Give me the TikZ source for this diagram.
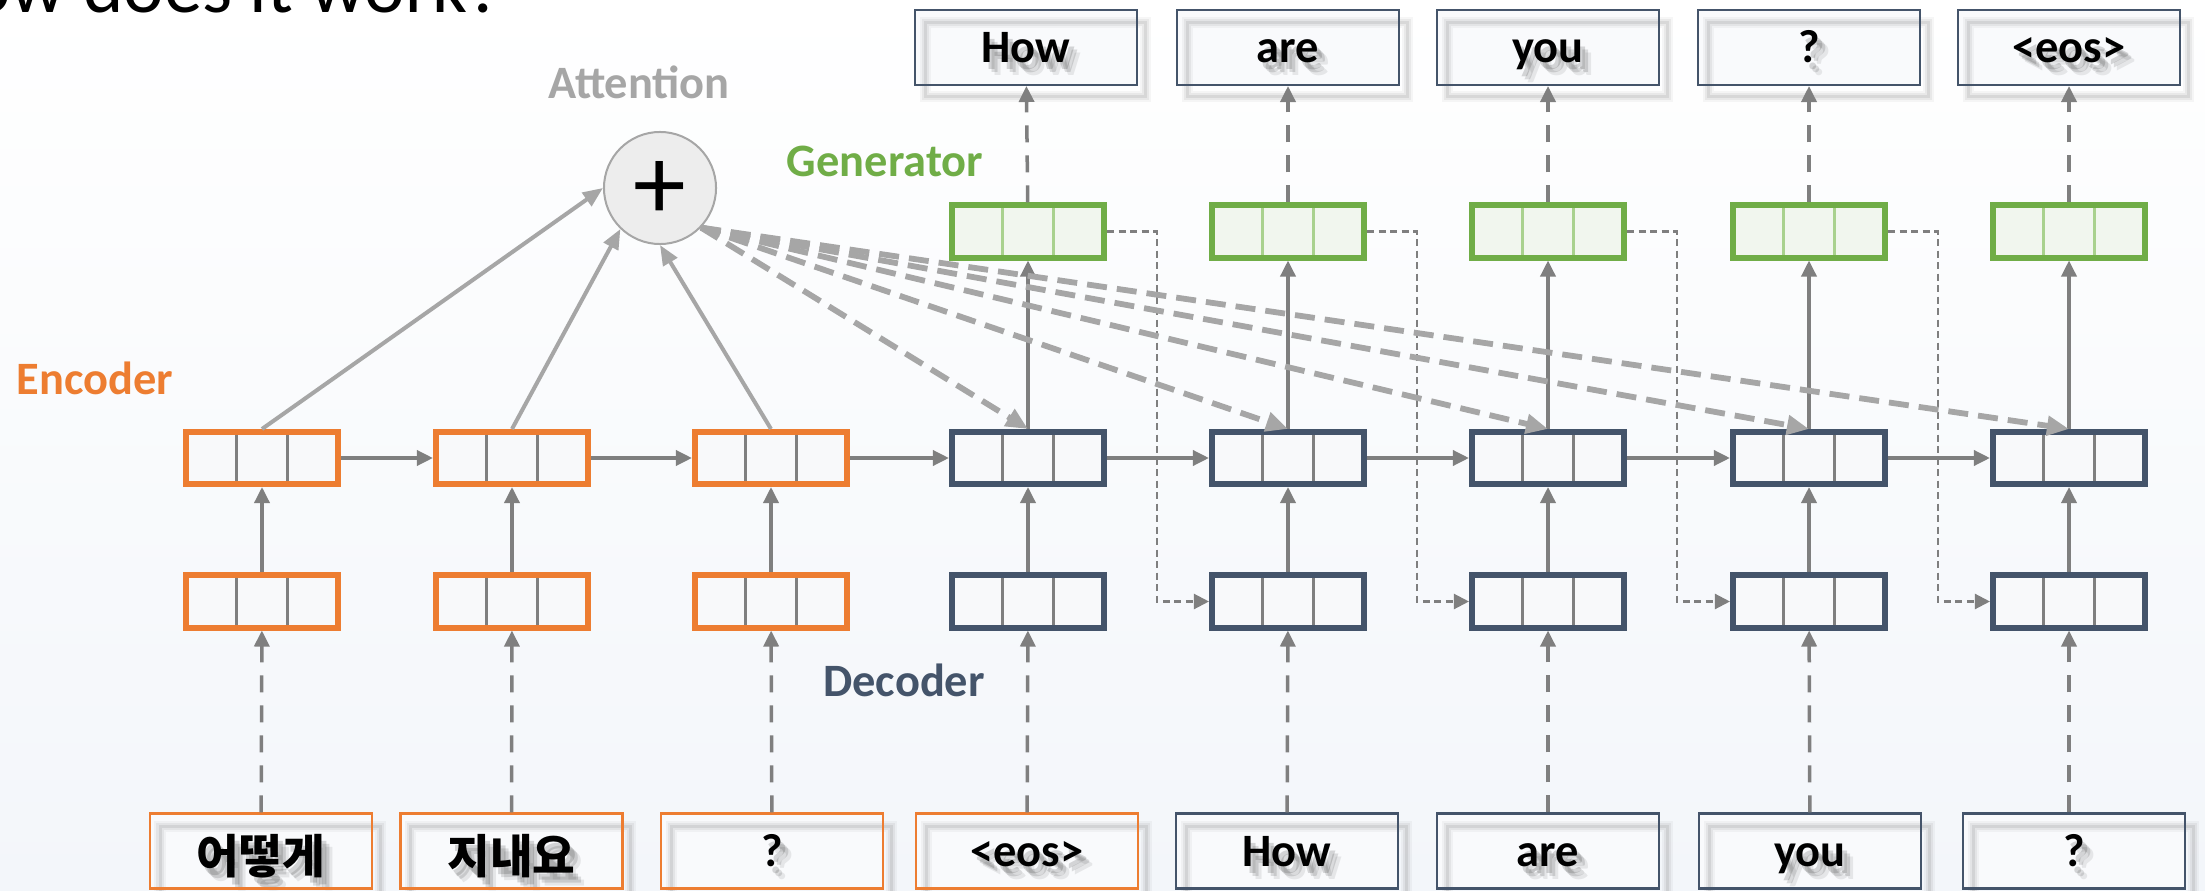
\documentclass[tikz,border=0pt]{standalone}
\usepackage{fontspec}
\setmainfont{Carlito}
\newfontfamily\krfont{Noto Sans CJK KR}
\usetikzlibrary{arrows.meta,calc}

\definecolor{encC}{HTML}{ED7D31}
\definecolor{decC}{HTML}{44546A}
\definecolor{genC}{HTML}{70AD47}
\definecolor{genF}{HTML}{F1F6EE}
\definecolor{genS}{HTML}{A9D18E}
\definecolor{cellF}{HTML}{F8F9FA}
\definecolor{sepC}{HTML}{7F7F7F}
\definecolor{arrC}{HTML}{7F7F7F}
\definecolor{attC}{HTML}{A6A6A6}
\definecolor{circF}{HTML}{EDEDED}
\definecolor{wordF}{HTML}{F9FAFC}
\definecolor{bgB}{HTML}{F3F6FA}

\tikzset{
  cellbox/.style={rectangle, inner sep=0pt, minimum width=1.52cm, minimum height=0.52cm, line width=0.06cm,
    path picture={
      \draw[#1, line width=0.03cm]
        ($(path picture bounding box.south west)!0.3333!(path picture bounding box.south east)$) --
        ($(path picture bounding box.north west)!0.3333!(path picture bounding box.north east)$)
        ($(path picture bounding box.south west)!0.6667!(path picture bounding box.south east)$) --
        ($(path picture bounding box.north west)!0.6667!(path picture bounding box.north east)$);
    }},
  encbox/.style={cellbox=sepC, draw=encC, fill=cellF},
  decbox/.style={cellbox=sepC, draw=decC, fill=cellF},
  genbox/.style={cellbox=genS, draw=genC, fill=genF},
  lab/.style={font=\fontsize{13.2pt}{16pt}\selectfont\bfseries, inner sep=0pt},
  wtext/.style={font=\fontsize{13.2pt}{16pt}\selectfont\bfseries, text height=0.36cm, text depth=0.06cm, inner sep=0pt},
  wbox/.style={wtext, rectangle, minimum width=2.215cm, minimum height=0.745cm, line width=0.025cm},
  boxshadowa/.style={draw=black, line width=0.11cm, opacity=0.035},
  boxshadow/.style={draw=black, line width=0.07cm, opacity=0.05},
  boxshadowb/.style={draw=black, line width=0.03cm, opacity=0.07},
  solidarr/.style={draw=arrC, line width=0.035cm, -{Triangle[length=0.16cm,width=0.15cm]}},
  dasharr/.style={solidarr, dash pattern=on 0.17cm off 0.13cm},
  thindash/.style={draw=arrC, line width=0.022cm, dash pattern=on 0.07cm off 0.045cm, -{Triangle[length=0.15cm,width=0.15cm]}},
  attsolid/.style={draw=attC, line width=0.04cm, -{Triangle[length=0.2cm,width=0.16cm]}},
  attdash/.style={draw=attC, line width=0.058cm, dash pattern=on 0.2cm off 0.1cm, -{Triangle[length=0.22cm,width=0.19cm]}},
}

% name, x, y, border colour, text
\newcommand\wordbox[5]{%
  \begin{scope}[shift={(#2,#3)}]
    \fill[wordF] (-111,-37) rectangle (111,37);
    \draw[boxshadowa] (-101,-25) rectangle (119,49);
    \draw[boxshadow] (-101,-25) rectangle (119,49);
    \draw[boxshadowb] (-101,-25) rectangle (119,49);
    \node[wtext, text=black, opacity=0.15] (#1s1) at (5,7) {#5};
    \node[wtext, text=black, opacity=0.12] (#1s2) at (8,10) {#5};
    \node[wtext, text=black, opacity=0.08] (#1s3) at (11,13) {#5};
  \end{scope}
  \node[wbox, draw=#4] (#1) at (#2,#3) {#5};
}

\begin{document}
\begin{tikzpicture}[x=0.01cm, y=-0.01cm]
\useasboundingbox (0,0) rectangle (2205,891);
\clip (0,0) rectangle (2205,891);
\shade[top color=white, bottom color=bgB] (0,0) rectangle (2205,891);

% title (cut off by the frame)
\node[anchor=base west, inner sep=0pt] (title) at (10,12.5)
  {\resizebox{4.92cm}{!}{\llap{Ho}w does it work?}};

% encoder boxes
\node[encbox] (e1t) at (262,458) {};
\node[encbox] (e2t) at (512,458) {};
\node[encbox] (e3t) at (771,458) {};
\node[encbox] (e1b) at (262,601.5) {};
\node[encbox] (e2b) at (512,601.5) {};
\node[encbox] (e3b) at (771,601.5) {};

% decoder and generator boxes
\foreach \i/\x in {1/1028,2/1288,3/1548,4/1809,5/2069}{
  \node[decbox] (d\i t) at (\x,458) {};
  \node[decbox] (d\i b) at (\x,601.5) {};
  \node[genbox] (g\i) at (\x,231.5) {};
}

% attention circle
\node[circle, draw=attC, fill=circF, line width=0.02cm, minimum size=1.12cm, inner sep=0pt] (att) at (660,188) {};
\node[inner sep=0pt, font=\fontsize{30pt}{30pt}\selectfont] (plus) at (660,191) {+};

% labels
\node[lab, text=attC] (latt) at (639,82) {Attention};
\node[lab, text=genC] (lgen) at (885,161) {Generator};
\node[lab, text=encC] (lenc) at (95,378) {Encoder};
\node[lab, text=decC] (ldec) at (904,680) {Decoder};

% output words
\wordbox{o1}{1026}{47.5}{decC}{How}
\wordbox{o2}{1288}{47.5}{decC}{are}
\wordbox{o3}{1548}{47.5}{decC}{you}
\wordbox{o4}{1809}{47.5}{decC}{?}
\wordbox{o5}{2069}{47.5}{decC}{<eos>}

% input words
\wordbox{w1}{261}{851}{encC}{\raisebox{-0.07cm}{\krfont\bfseries 어떻게}}
\wordbox{w2}{511.5}{851}{encC}{\raisebox{-0.07cm}{\krfont\bfseries 지내요}}
\wordbox{w3}{772}{851}{encC}{?}
\wordbox{w4}{1027}{851}{encC}{<eos>}
\wordbox{w5}{1287}{851}{decC}{How}
\wordbox{w6}{1548}{851}{decC}{are}
\wordbox{w7}{1810}{851}{decC}{you}
\wordbox{w8}{2074}{851}{decC}{?}

% generator -> next decoder input (thin dashed elbows)
\foreach \i/\j in {1/2,2/3,3/4,4/5}{
  \draw[thindash] (g\i.east) -- ++(50,0) |- (d\j b.west);
}

% input words -> bottom boxes
\draw[dasharr] (w1) -- (e1b);
\draw[dasharr] (w2) -- (e2b);
\draw[dasharr] (w3) -- (e3b);
\draw[dasharr] (w4) -- (d1b);
\draw[dasharr] (w5) -- (d2b);
\draw[dasharr] (w6) -- (d3b);
\draw[dasharr] (w7) -- (d4b);
\draw[dasharr] (d5b.south |- w8.north) -- (d5b.south);

% bottom -> top -> generator -> output
\draw[solidarr] (e1b) -- (e1t);
\draw[solidarr] (e2b) -- (e2t);
\draw[solidarr] (e3b) -- (e3t);
\foreach \i in {1,...,5}{
  \draw[solidarr] (d\i b) -- (d\i t);
  \draw[solidarr] (d\i t) -- (g\i);
}
\draw[dasharr] (g1) -- (o1);
\draw[dasharr] (g2) -- (o2);
\draw[dasharr] (g3) -- (o3);
\draw[dasharr] (g4) -- (o4);
\draw[dasharr] (g5) -- (o5);

% recurrent chain
\draw[solidarr] (e1t) -- (e2t);
\draw[solidarr] (e2t) -- (e3t);
\draw[solidarr] (e3t) -- (d1t);
\draw[solidarr] (d1t) -- (d2t);
\draw[solidarr] (d2t) -- (d3t);
\draw[solidarr] (d3t) -- (d4t);
\draw[solidarr] (d4t) -- (d5t);

% attention
\draw[attsolid] (e1t.north) -- (att.180);
\draw[attsolid] (e2t.north) -- (att.226);
\draw[attsolid] (e3t.north) -- (att.270);
\foreach \i in {1,...,5}{
  \draw[attdash] (att.-44) -- (d\i t.north);
}
\end{tikzpicture}
\end{document}
